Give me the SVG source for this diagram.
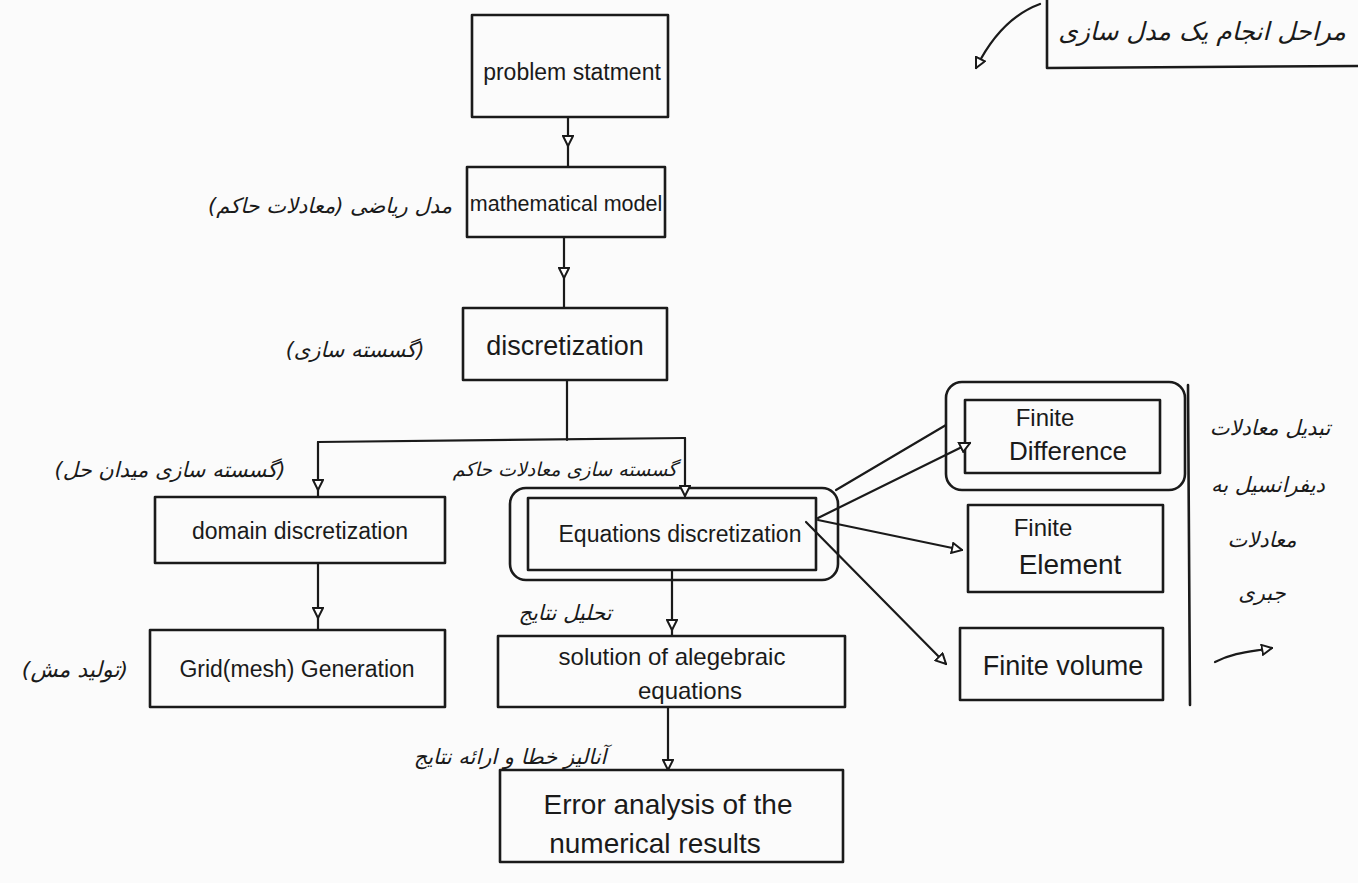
<svg xmlns="http://www.w3.org/2000/svg" width="1358" height="883" viewBox="0 0 1358 883">
<defs>
<marker id="ah" viewBox="0 0 12 12" refX="11" refY="6" markerWidth="12" markerHeight="12" markerUnits="userSpaceOnUse" orient="auto">
<path d="M1,1 L11,6 L1,11 Z" fill="#fff" stroke="#1a1a1a" stroke-width="2"/>
</marker>
<style>
.b{fill:none;stroke:#1a1a1a;stroke-width:2.6;stroke-linejoin:round;stroke-linecap:round}
.c{fill:none;stroke:#1a1a1a;stroke-width:2.2;stroke-linecap:round}
.t{font-family:"Liberation Sans","DejaVu Sans",sans-serif;fill:#1a1a1a;text-anchor:middle}
.f{font-family:"DejaVu Sans","Noto Sans",sans-serif;fill:#1a1a1a;font-style:italic;text-anchor:middle}
</style>
</defs>
<rect width="1358" height="883" fill="#fbfbfb"/>

<g id="title">
<path class="b" d="M1047,0 L1047,68 L1358,66"/>
<text class="f" x="1202" y="40" direction="rtl" font-size="25">مراحل انجام یک مدل سازی</text>
<path class="c" d="M1040,4 C1010,15 990,40 976,68" marker-end="url(#ah)"/>
</g>

<g id="n-problem">
<rect class="b" x="472" y="15" width="196" height="102"/>
<text class="t" x="572" y="80" font-size="23">problem statment</text>
</g>

<g id="n-math">
<rect class="b" x="467" y="167" width="198" height="70"/>
<text class="t" x="566" y="211" font-size="21.5">mathematical model</text>
<text class="f" x="330" y="213" direction="rtl" font-size="21">مدل ریاضی (معادلات حاکم)</text>
</g>

<g id="n-disc">
<rect class="b" x="463" y="308" width="204" height="72"/>
<text class="t" x="565" y="355" font-size="27">discretization</text>
<text class="f" x="355" y="357" direction="rtl" font-size="21">(گسسته سازی)</text>
</g>

<g id="n-domain">
<rect class="b" x="155" y="497" width="290" height="66"/>
<text class="t" x="300" y="539" font-size="23">domain discretization</text>
<text class="f" x="170" y="477" direction="rtl" font-size="21">(گسسته سازی میدان حل)</text>
</g>

<g id="n-eqdisc">
<rect class="b" x="510" y="488" width="328" height="92" rx="16"/>
<rect class="b" x="528" y="498" width="288" height="72"/>
<text class="t" x="680" y="542" font-size="23">Equations discretization</text>
<text class="f" x="565" y="476" direction="rtl" font-size="19">گسسته سازی معادلات حاکم</text>
</g>

<g id="n-grid">
<rect class="b" x="150" y="630" width="295" height="77"/>
<text class="t" x="297" y="677" font-size="23">Grid(mesh) Generation</text>
<text class="f" x="75" y="677" direction="rtl" font-size="22">(تولید مش)</text>
</g>

<g id="n-solution">
<rect class="b" x="498" y="636" width="347" height="71"/>
<text class="t" x="672" y="665" font-size="24">solution of alegebraic</text>
<text class="t" x="690" y="699" font-size="24">equations</text>
</g>

<g id="n-error">
<rect class="b" x="500" y="770" width="343" height="92"/>
<text class="t" x="668" y="814" font-size="28">Error analysis of the</text>
<text class="t" x="655" y="853" font-size="28">numerical  results</text>
</g>

<g id="n-fd">
<rect class="b" x="946" y="382" width="239" height="108" rx="16"/>
<rect class="b" x="965" y="400" width="195" height="73"/>
<text class="t" x="1045" y="426" font-size="24">Finite</text>
<text class="t" x="1068" y="460" font-size="26">Difference</text>
</g>

<g id="n-fe">
<rect class="b" x="968" y="505" width="195" height="87"/>
<text class="t" x="1043" y="536" font-size="24">Finite</text>
<text class="t" x="1070" y="574" font-size="28">Element</text>
</g>

<g id="n-fv">
<rect class="b" x="960" y="628" width="203" height="72"/>
<text class="t" x="1063" y="675" font-size="27">Finite volume</text>
</g>

<g id="note-right">
<path class="b" d="M1188,385 L1190,705"/>
<text class="f" x="1270" y="435" direction="rtl" font-size="21">تبدیل معادلات</text>
<text class="f" x="1268" y="492" direction="rtl" font-size="21">دیفرانسیل به</text>
<text class="f" x="1262" y="547" direction="rtl" font-size="21">معادلات</text>
<text class="f" x="1262" y="600" direction="rtl" font-size="21">جبری</text>
<path class="c" d="M1215,662 C1235,652 1250,652 1272,648" marker-end="url(#ah)"/>
</g>

<g id="labels">
<text class="f" x="565" y="620" direction="rtl" font-size="21">تحلیل نتایج</text>
<text class="f" x="510" y="764" direction="rtl" font-size="21">آنالیز خطا و ارائه نتایج</text>
</g>

<g id="connectors">
<path class="c" d="M568,117 L568,146" marker-end="url(#ah)"/>
<path class="c" d="M568,146 L568,167"/>
<path class="c" d="M564,237 L564,278" marker-end="url(#ah)"/>
<path class="c" d="M564,278 L564,308"/>
<path class="c" d="M567,380 L567,440"/>
<path class="c" d="M318,442 L685,438"/>
<path class="c" d="M318,442 L318,490" marker-end="url(#ah)"/>
<path class="c" d="M318,490 L318,497"/>
<path class="c" d="M685,438 L685,496" marker-end="url(#ah)"/>
<path class="c" d="M318,563 L318,618" marker-end="url(#ah)"/>
<path class="c" d="M318,618 L318,630"/>
<path class="c" d="M672,570 L672,630" marker-end="url(#ah)"/>
<path class="c" d="M672,630 L672,636"/>
<path class="c" d="M668,707 L668,770" marker-end="url(#ah)"/>
<path class="c" d="M836,490 L946,425"/>
<path class="c" d="M818,518 L970,443" marker-end="url(#ah)"/>
<path class="c" d="M818,520 L962,550" marker-end="url(#ah)"/>
<path class="c" d="M806,522 L946,664" marker-end="url(#ah)"/>
</g>
</svg>
